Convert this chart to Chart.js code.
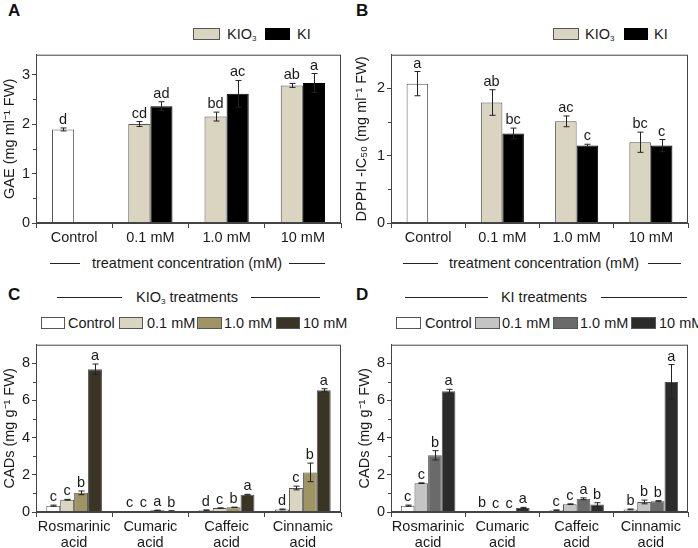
<!DOCTYPE html>
<html>
<head>
<meta charset="utf-8">
<script src="https://cdn.jsdelivr.net/npm/chart.js@4"></script>
<style>
body { margin:0; width:698px; height:548px; background:#fff; position:relative; overflow:hidden;
       font-family:"Liberation Sans", Arial, sans-serif; color:#1a1a1a; }
.cv { position:absolute; }
.txt { position:absolute; font-size:14.5px; line-height:16px; white-space:nowrap; }
.mid { transform:translateX(-50%); }
.tag { position:absolute; font-size:17px; line-height:17px; font-weight:bold; color:#111; }
.box { position:absolute; height:12px; border:1px solid #555; box-sizing:border-box; }
.rule { position:absolute; height:0; border-top:1.5px solid #222; }
sub { font-size:8px; vertical-align:-2px; line-height:0; }
</style>
</head>
<body>

<div class="tag" style="left:8px;top:2px">A</div>
<div class="tag" style="left:356px;top:2px">B</div>
<div class="tag" style="left:8px;top:286px">C</div>
<div class="tag" style="left:356px;top:286px">D</div>

<!-- legends A / B -->
<div class="box" style="left:193px;top:28px;width:27px;background:#d9d5c1"></div>
<div class="txt" style="left:227px;top:26px">KIO<sub>3</sub></div>
<div class="box" style="left:265px;top:28px;width:25px;background:#000;border-color:#000"></div>
<div class="txt" style="left:297px;top:26px">KI</div>

<div class="box" style="left:553px;top:28px;width:26px;background:#d9d5c1"></div>
<div class="txt" style="left:585px;top:26px">KIO<sub>3</sub></div>
<div class="box" style="left:624px;top:28px;width:24px;background:#000;border-color:#000"></div>
<div class="txt" style="left:654px;top:26px">KI</div>

<!-- x titles A / B -->
<div class="rule" style="left:50px;top:263px;width:30px"></div>
<div class="txt mid" style="left:187px;top:255px">treatment concentration (mM)</div>
<div class="rule" style="left:289px;top:263px;width:36px"></div>

<div class="rule" style="left:403px;top:263px;width:35px"></div>
<div class="txt mid" style="left:544px;top:255px">treatment concentration (mM)</div>
<div class="rule" style="left:648px;top:263px;width:33px"></div>

<!-- titles C / D -->
<div class="rule" style="left:57px;top:297px;width:65px"></div>
<div class="txt mid" style="left:187px;top:289px">KIO<sub>3</sub> treatments</div>
<div class="rule" style="left:251px;top:297px;width:69px"></div>

<div class="rule" style="left:405px;top:297px;width:83px"></div>
<div class="txt mid" style="left:544px;top:289px">KI treatments</div>
<div class="rule" style="left:601px;top:297px;width:86px"></div>

<!-- legends C / D -->
<div class="box" style="left:41px;top:317px;width:24px;background:#fff"></div>
<div class="txt" style="left:68px;top:315px">Control</div>
<div class="box" style="left:119px;top:317px;width:24px;background:#d9d5c1"></div>
<div class="txt" style="left:147px;top:315px">0.1 mM</div>
<div class="box" style="left:197px;top:317px;width:25px;background:#9e9563"></div>
<div class="txt" style="left:224px;top:315px">1.0 mM</div>
<div class="box" style="left:276px;top:317px;width:24px;background:#3a3424"></div>
<div class="txt" style="left:303px;top:315px">10 mM</div>

<div class="box" style="left:396px;top:317px;width:25px;background:#fff"></div>
<div class="txt" style="left:425px;top:315px">Control</div>
<div class="box" style="left:475px;top:317px;width:25px;background:#c4c4c4"></div>
<div class="txt" style="left:502px;top:315px">0.1 mM</div>
<div class="box" style="left:553px;top:317px;width:25px;background:#6a6a6a"></div>
<div class="txt" style="left:580px;top:315px">1.0 mM</div>
<div class="box" style="left:631px;top:317px;width:25px;background:#2b2b2b"></div>
<div class="txt" style="left:659px;top:315px">10 mM</div>

<canvas id="chartA" class="cv" width="349" height="210" style="left:0;top:44px"></canvas>
<canvas id="chartB" class="cv" width="349" height="210" style="left:349px;top:44px"></canvas>
<canvas id="chartC" class="cv" width="349" height="214" style="left:0;top:334px"></canvas>
<canvas id="chartD" class="cv" width="349" height="214" style="left:349px;top:334px"></canvas>

<script>
// ---- data ----
const doseLabels = ['Control', '0.1 mM', '1.0 mM', '10 mM'];

// A: GAE (Control sits in the KIO3 slot)
const gaeKIO3 = [1.89, 2.00, 2.15, 2.78];
const gaeKIO3Err = [0.03, 0.05, 0.09, 0.04];
const gaeKIO3Let = ['d', 'cd', 'bd', 'ab'];
const gaeKI = [null, 2.36, 2.61, 2.83];
const gaeKIErr = [null, 0.09, 0.27, 0.19];
const gaeKILet = [null, 'ad', 'ac', 'a'];

// B: DPPH IC50
const dpphKIO3 = [2.07, 1.79, 1.51, 1.20];
const dpphKIO3Err = [0.18, 0.19, 0.08, 0.15];
const dpphKIO3Let = ['a', 'ab', 'ac', 'bc'];
const dpphKI = [null, 1.33, 1.15, 1.15];
const dpphKIErr = [null, 0.08, 0.02, 0.09];
const dpphKILet = [null, 'bc', 'c', 'c'];

// C / D: caffeic acid derivatives, acid order
const acids = [['Rosmarinic', 'acid'], ['Cumaric', 'acid'], ['Caffeic', 'acid'], ['Cinnamic', 'acid']];

const cControl = [0.34, 0.05, 0.10, 0.14];
const cControlErr = [0.03, 0.0, 0.01, 0.02];
const cControlLet = ['c', 'c', 'd', 'd'];
const c01 = [0.66, 0.04, 0.21, 1.29];
const c01Err = [0.02, 0.0, 0.01, 0.10];
const c01Let = ['c', 'c', 'c', 'c'];
const c10 = [1.03, 0.09, 0.25, 2.13];
const c10Err = [0.10, 0.01, 0.01, 0.50];
const c10Let = ['b', 'a', 'b', 'b'];
const c100 = [7.68, 0.05, 0.93, 6.55];
const c100Err = [0.28, 0.02, 0.02, 0.08];
const c100Let = ['a', 'b', 'a', 'a'];

const dControl = [0.34, 0.04, 0.10, 0.14];
const dControlErr = [0.03, 0.0, 0.01, 0.02];
const dControlLet = ['c', 'b', 'c', 'b'];
const d01 = [1.55, 0.0, 0.42, 0.54];
const d01Err = [0.02, 0.0, 0.02, 0.10];
const d01Let = ['c', 'c', 'c', 'b'];
const d10 = [3.05, 0.0, 0.71, 0.58];
const d10Err = [0.25, 0.0, 0.05, 0.03];
const d10Let = ['b', 'c', 'a', 'b'];
const d100 = [6.50, 0.22, 0.40, 7.00];
const d100Err = [0.10, 0.03, 0.10, 0.93];
const d100Let = ['a', 'a', 'b', 'a'];

const beige = '#d9d5c1';

// error bars, letters, frame and minor ticks
const annot = {
    id: 'annot',
    afterDatasetsDraw(chart) {
        const { ctx, chartArea: a, scales: { y } } = chart;
        ctx.save();
        ctx.lineWidth = 1;
        chart.data.datasets.forEach((ds, di) => {
            chart.getDatasetMeta(di).data.forEach((bar, i) => {
                const v = ds.data[i];
                if (v == null) return;
                const e = ds.errors[i] || 0;
                const top = y.getPixelForValue(v + e);
                if (e > 0) {
                    const lo = y.getPixelForValue(v - e);
                    const x = Math.round(bar.x) + 0.5;
                    ctx.strokeStyle = '#222';
                    ctx.beginPath();
                    ctx.moveTo(x, top); ctx.lineTo(x, lo);
                    ctx.moveTo(x - 3, top); ctx.lineTo(x + 3, top);
                    ctx.moveTo(x - 3, lo); ctx.lineTo(x + 3, lo);
                    ctx.stroke();
                }
                if (ds.letters[i]) {
                    ctx.fillStyle = '#1a1a1a';
                    ctx.font = '14.5px "Liberation Sans", Arial, sans-serif';
                    ctx.textAlign = 'center';
                    ctx.textBaseline = 'alphabetic';
                    ctx.fillText(ds.letters[i], bar.x, top - 4);
                }
            });
        });
        ctx.strokeStyle = '#444';
        ctx.strokeRect(a.left + 0.5, a.top + 0.5, a.width - 1, a.height - 1);
        const minor = chart.options.minorStep;
        ctx.beginPath();
        for (let v = minor; v < y.max; v += 2 * minor) {
            const py = Math.round(y.getPixelForValue(v)) + 0.5;
            ctx.moveTo(a.left - 3, py); ctx.lineTo(a.left, py);
        }
        ctx.stroke();
        ctx.restore();
    }
};

function makeChart(id, labels, datasets, o) {
    return new Chart(document.getElementById(id), {
        type: 'bar',
        data: { labels, datasets },
        options: {
            responsive: false, animation: false,
            minorStep: o.minor,
            layout: { padding: { top: o.padTop, right: o.padRight, left: 0, bottom: 0 } },
            plugins: { legend: { display: false }, tooltip: { enabled: false } },
            datasets: { bar: { categoryPercentage: o.cat, barPercentage: 1, borderWidth: 1, borderColor: '#555' } },
            scales: {
                x: {
                    grid: { offset: true, drawOnChartArea: false, tickLength: 5, color: '#444' },
                    border: { color: '#444' },
                    ticks: { color: '#1a1a1a', font: { size: 14.5, lineHeight: 1.1 }, padding: 2, maxRotation: 0, autoSkip: false },
                    afterFit: s => { s.height = o.xH; },
                },
                y: {
                    min: 0, max: o.max,
                    ticks: { stepSize: o.step, includeBounds: false, color: '#1a1a1a', font: { size: 14.5 }, padding: 2 },
                    grid: { drawOnChartArea: false, tickLength: 4, color: '#444' },
                    border: { color: '#444' },
                    title: { display: true, text: o.title, color: '#1a1a1a', font: { size: 14.5 }, padding: { top: o.titlePad, bottom: 0 } },
                    afterFit: s => { s.width = o.yW; },
                },
            },
        },
        plugins: [annot],
    });
}

makeChart('chartA', doseLabels, [
    { data: gaeKIO3, errors: gaeKIO3Err, letters: gaeKIO3Let, backgroundColor: ['#fff', beige, beige, beige] },
    { data: gaeKI, errors: gaeKIErr, letters: gaeKILet, backgroundColor: '#000', borderColor: '#000' },
], { max: 3.4, step: 1, minor: 0.5, cat: 0.58, padTop: 5, padRight: 8, xH: 31, yW: 36, titlePad: 1, title: 'GAE (mg ml\u207B\u00B9 FW)' });

makeChart('chartB', doseLabels, [
    { data: dpphKIO3, errors: dpphKIO3Err, letters: dpphKIO3Let, backgroundColor: ['#fff', beige, beige, beige] },
    { data: dpphKI, errors: dpphKIErr, letters: dpphKILet, backgroundColor: '#000', borderColor: '#000' },
], { max: 2.5, step: 1, minor: 0.5, cat: 0.58, padTop: 5, padRight: 10, xH: 31, yW: 42, titlePad: 4, title: 'DPPH -IC\u2085\u2080 (mg ml\u207B\u00B9 FW)' });

makeChart('chartC', acids, [
    { data: cControl, errors: cControlErr, letters: cControlLet, backgroundColor: '#fff' },
    { data: c01, errors: c01Err, letters: c01Let, backgroundColor: beige },
    { data: c10, errors: c10Err, letters: c10Let, backgroundColor: '#9e9563' },
    { data: c100, errors: c100Err, letters: c100Let, backgroundColor: '#3a3424' },
], { max: 9, step: 2, minor: 1, cat: 0.73, padTop: 5, padRight: 8, xH: 36, yW: 36, titlePad: 1, title: 'CADs (mg g\u207B\u00B9 FW)' });

makeChart('chartD', acids, [
    { data: dControl, errors: dControlErr, letters: dControlLet, backgroundColor: '#fff' },
    { data: d01, errors: d01Err, letters: d01Let, backgroundColor: '#c4c4c4' },
    { data: d10, errors: d10Err, letters: d10Let, backgroundColor: '#6a6a6a' },
    { data: d100, errors: d100Err, letters: d100Let, backgroundColor: '#2b2b2b' },
], { max: 9, step: 2, minor: 1, cat: 0.735, padTop: 5, padRight: 10, xH: 36, yW: 42, titlePad: 7, title: 'CADs (mg g\u207B\u00B9 FW)' });
</script>
</body>
</html>
